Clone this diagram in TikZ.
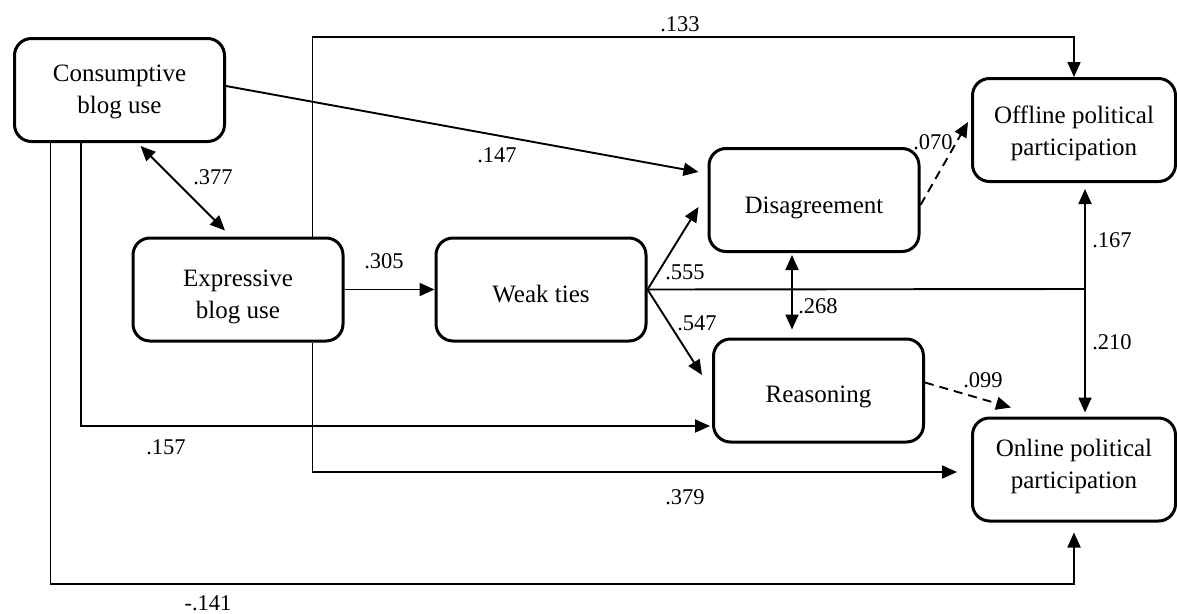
\documentclass[tikz,border=0pt]{standalone}
\usepackage{fontspec}
\setmainfont{Liberation Serif}
\usetikzlibrary{arrows.meta,calc}
\begin{document}
\begin{tikzpicture}[x=1pt,y=-1pt,
  box/.style={draw, line width=3pt, rounded corners=17pt, align=center, inner sep=0pt,
    font=\fontsize{25}{32}\selectfont, minimum height=103pt, minimum width=210pt},
  tpos/.style={text height=#1, text depth=5pt},
  conn/.style={line width=1.9pt},
  arr/.style={conn, -{Triangle[length=15pt,width=13pt]}},
  dbl/.style={conn, {Triangle[length=15pt,width=13pt]}-{Triangle[length=15pt,width=13pt]}},
  dsh/.style={arr, dash pattern=on 9pt off 6pt},
  lab/.style={font=\fontsize{22.5}{24}\selectfont, inner sep=0pt}]
\useasboundingbox[fill=white] (0,0) rectangle (1177,613);

\node[box, tpos=51pt] (cons) at (119.5,90) {Consumptive\\blog use};
\node[box, tpos=62pt] (expr) at (238,289.5) {Expressive\\blog use};
\node[box, tpos=30pt] (weak) at (541,289.5) {Weak ties};
\node[box, tpos=31pt] (dis) at (814,200) {Disagreement};
\node[box, tpos=28pt] (reas) at (818.5,390.5) {Reasoning};
\node[box, tpos=55pt, minimum width=203pt] (off) at (1074,130) {Offline political\\participation};
\node[box, tpos=42pt, minimum width=203pt] (on) at (1074,469.5) {Online political\\participation};

\coordinate (J) at (1085,289);
\coordinate (c133) at (1074,37);

\draw[arr] ([xshift=-32pt]expr.north east) |- (c133) -- (off.north);
\draw[arr] ([yshift=4pt]cons.east) -- ($(dis.west)+(-9,-28)$);
\draw[dbl] ([xshift=21pt,yshift=-3pt]cons.south) -- ([xshift=-13pt,yshift=6pt]expr.north);
\draw[arr] ([xshift=-69pt]cons.south) -- ++(0,441) -| ([yshift=-10pt]on.south);
\draw[arr] ([xshift=-38.5pt]cons.south) |- ([xshift=-2pt,yshift=-35.5pt]reas.west);
\draw[arr] ([xshift=-32pt]expr.south east) |- ([xshift=-14pt,yshift=-2.5pt]on.west);
\draw[arr] (expr.east) -- (weak.west);
\draw[arr] (weak.east) -- ([xshift=-9pt,yshift=-7pt]dis.west);
\draw[arr] (weak.east) -- ([xshift=-10pt,yshift=15.5pt]reas.west);
\draw[conn] (weak.east) -- (J);
\draw[arr] (J) -- ([yshift=-6pt]J |- off.south);
\draw[arr] (J) -- ([yshift=4pt]J |- on.north);
\draw[dbl] ([xshift=-22pt,yshift=-2pt]dis.south) -- ([xshift=-26.5pt,yshift=8pt]reas.north);
\draw[dsh] ([yshift=-5pt]dis.east) -- ([xshift=-3pt,yshift=8pt]off.west);
\draw[dsh] ([yshift=8pt]reas.east) -- ([xshift=40pt,yshift=9pt]on.north west);

\node[lab] (l133) at (680,24) {.133};
\node[lab] (l147) at (497,155) {.147};
\node[lab] (l377) at (213,177) {.377};
\node[lab] (l305) at (384,261) {.305};
\node[lab] (l555) at (685,272) {.555};
\node[lab] (l547) at (697,323) {.547};
\node[lab] (l268) at (818,306) {.268};
\node[lab] (l070) at (933,142) {.070};
\node[lab] (l167) at (1112,240) {.167};
\node[lab] (l210) at (1112,342) {.210};
\node[lab] (l099) at (983,380) {.099};
\node[lab] (l157) at (166,447) {.157};
\node[lab] (l379) at (685,497) {.379};
\node[lab] (l141) at (208,603) {-.141};
\end{tikzpicture}
\end{document}
